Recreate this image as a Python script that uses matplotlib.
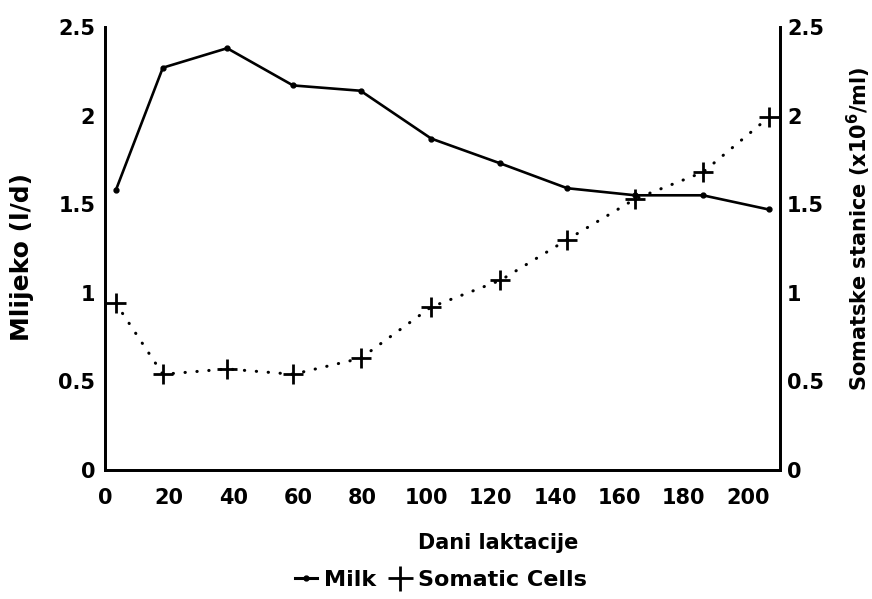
import matplotlib
matplotlib.use("Agg")
from matplotlib import pyplot as plt
from matplotlib.lines import Line2D

# days of lactation
days = [3.4, 18, 38, 58.5, 79.5, 101.5, 123, 143.8, 165, 186, 206.5]
# milk yield (l/d)
milk = [1.58, 2.27, 2.38, 2.17, 2.14, 1.87, 1.73, 1.59, 1.55, 1.55, 1.47]
# somatic cells (x10^6/ml)
cells = [0.94, 0.54, 0.57, 0.54, 0.63, 0.92, 1.07, 1.30, 1.53, 1.68, 1.99]

xticks = [0, 20, 40, 60, 80, 100, 120, 140, 160, 180, 200]
yticks = [0, 0.5, 1, 1.5, 2, 2.5]
yticklabels = ['0', '0.5', '1', '1.5', '2', '2.5']

plt.rcParams['font.family'] = ['DejaVu Sans']
plt.rcParams['font.weight'] = 'bold'

fig = plt.figure(figsize=(8.72, 5.99), dpi=100)
ax = fig.add_axes([0.1204, 0.2154, 0.7741, 0.7396])
ax2 = ax.twinx()

ax.plot(days, milk, color='black', lw=1.9, marker='o', markersize=3.5)
ax2.plot(days, cells, color='black', lw=2.2, linestyle=(0, (0.1, 3.8)),
         dash_capstyle='round', marker='+', markersize=15, markeredgewidth=2)

ax.set_xlim(0, 210)
ax.set_ylim(0, 2.5)
ax2.set_ylim(0, 2.5)
ax.set_xticks(xticks)
ax.set_yticks(yticks)
ax.set_yticklabels(yticklabels)
ax2.set_yticks(yticks)
ax2.set_yticklabels(yticklabels)

for a in (ax, ax2):
    a.spines['top'].set_visible(False)
    for s in a.spines.values():
        s.set_linewidth(2)
    a.tick_params(length=0, labelsize=15)
ax.tick_params(axis='x', pad=13)
ax.tick_params(axis='y', pad=7)
ax2.tick_params(axis='y', pad=5)

# axis titles placed in figure pixels
W, H = 872.0, 599.0
fig.text(498 / W, 1 - 543 / H, 'Dani laktacije', fontsize=15, fontweight='bold',
         ha='center', va='center')
fig.text(22 / W, 1 - 257 / H, 'Mlijeko (l/d)', fontsize=18, fontweight='bold',
         rotation=90, ha='center', va='center')
fig.text(859 / W, 1 - 229 / H, 'Somatske stanice (x10$^{\\mathbf{6}}$/ml)', fontsize=15,
         fontweight='bold', rotation=90, ha='center', va='center')

handles = [Line2D([], [], color='black', lw=2.2, marker='o', markersize=3.5),
           Line2D([], [], color='black', lw=0, marker='+', markersize=18, markeredgewidth=2)]
fig.legend(handles, ['Milk', 'Somatic Cells'], loc='center', bbox_to_anchor=(441 / W, 1 - 580 / H),
           ncol=2, frameon=False, handlelength=1.0, handletextpad=0.3, columnspacing=0.6,
           prop={'weight': 'bold', 'size': 16})

plt.savefig('out.png', dpi=100)
